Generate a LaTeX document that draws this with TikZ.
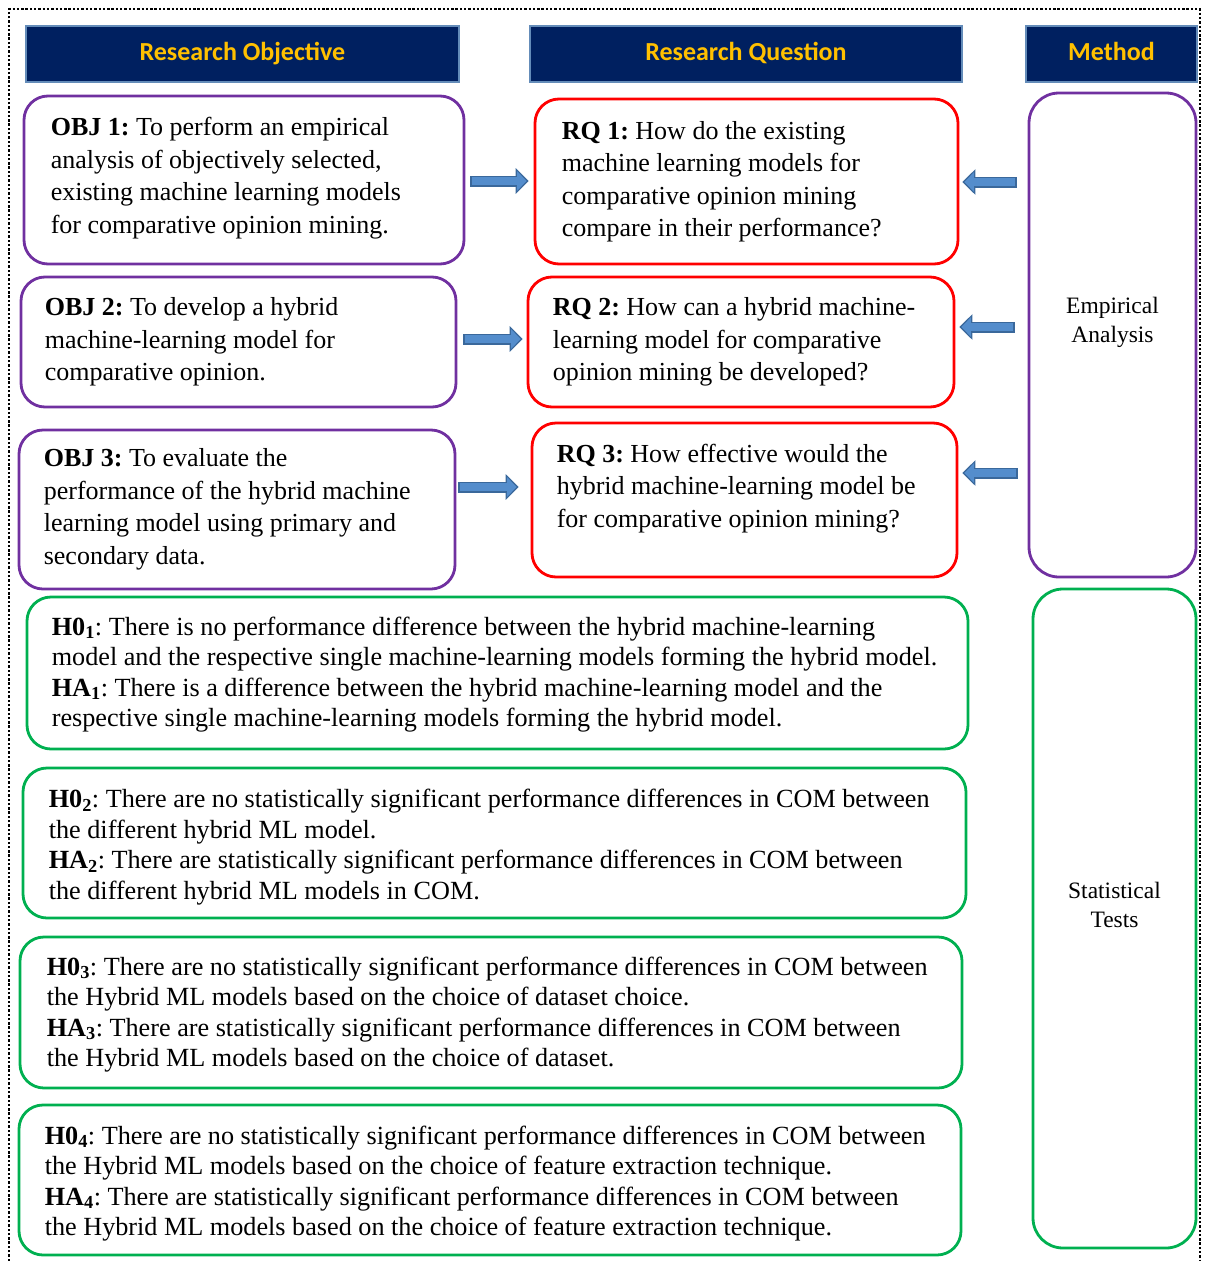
\documentclass[tikz,border=0pt]{standalone}
\usepackage{fontspec}
\setmainfont{Liberation Serif}
\newfontfamily\headfont{Carlito}
\usetikzlibrary{arrows.meta,calc}
\frenchspacing

\definecolor{objpurple}{RGB}{112,48,160}
\definecolor{rqred}{RGB}{255,0,0}
\definecolor{hypgreen}{RGB}{0,176,80}
\definecolor{headnavy}{RGB}{0,32,96}
\definecolor{headgold}{RGB}{255,192,0}
\definecolor{headedge}{RGB}{100,140,185}
\definecolor{arrowfill}{RGB}{84,141,204}
\definecolor{arrowedge}{RGB}{58,104,155}

\begin{document}
\begin{tikzpicture}[x=1pt,y=-1pt,
  sz/.style 2 args={minimum width=#1, minimum height=#2},
  box/.style={draw, line width=2.8pt, rounded corners=24pt, inner sep=0pt},
  objbox/.style={box, draw=objpurple},
  rqbox/.style={box, draw=rqred},
  hypbox/.style={box, draw=hypgreen},
  methodbox/.style={box, rounded corners=30pt},
  head/.style={draw=headedge, line width=1.8pt, fill=headnavy, text=headgold,
    inner sep=0pt, text height=18pt, text depth=6pt,
    font=\headfont\bfseries\fontsize{26}{30}\selectfont},
  txt/.style={anchor=west, align=left, inner sep=0pt,
    font=\fontsize{26}{32.5}\selectfont},
  hyptxt/.style={anchor=west, align=left, inner sep=0pt,
    font=\fontsize{26.2}{30.5}\selectfont},
  methtxt/.style={align=center, inner sep=0pt,
    font=\fontsize{23.5}{29}\selectfont},
  blockarrow/.style={line width=11pt, draw=arrowedge,
    -{Triangle[length=13pt,width=25pt]},
    postaction={draw=arrowfill, line width=7.4pt,
      -{Triangle[length=9.5pt,width=19pt]},
      shorten >=2pt, shorten <=1.8pt}},
  frame/.style={line width=2.8pt, dash pattern=on 2.4pt off 1.9pt}
]
\useasboundingbox (0,0) rectangle (1206,1261);

% outer dotted frame
\draw[frame] (9,1261) -- (9,9) -- (1200,9) -- (1200,1261);

% column headings
\node[head, sz={433pt}{56pt}] (hobj) at (242.5,54) {Research Objective};
\node[head, sz={432pt}{56pt}] (hrq)  at (746,54)   {Research Question};
\node[head, sz={171pt}{56pt}] (hmet) at (1111.5,54) {Method};

% objectives
\node[objbox, sz={440pt}{168pt}] (obj1) at (244,180) {};
\node[txt] (obj1t) at ($(obj1.west)+(28,-2)$)
  {\textbf{OBJ 1:} To perform an empirical\\
   analysis of objectively selected,\\
   existing machine learning models\\
   for comparative opinion mining.};

\node[objbox, sz={435pt}{130pt}] (obj2) at (238.5,342) {};
\node[txt] (obj2t) at ($(obj2.west)+(25,0)$)
  {\textbf{OBJ 2:} To develop a hybrid\\
   machine-learning model for\\
   comparative opinion.};

\node[objbox, sz={436pt}{159pt}] (obj3) at (237,509.5) {};
\node[txt] (obj3t) at ($(obj3.west)+(26,0)$)
  {\textbf{OBJ 3:} To evaluate the\\
   performance of the hybrid machine\\
   learning model using primary and\\
   secondary data.};

% research questions
\node[rqbox, sz={423pt}{165pt}] (rq1) at (746.5,181.5) {};
\node[txt] (rq1t) at ($(rq1.west)+(28,0)$)
  {\textbf{RQ 1:} How do the existing\\
   machine learning models for\\
   comparative opinion mining\\
   compare in their performance?};

\node[rqbox, sz={426pt}{130pt}] (rq2) at (741,342) {};
\node[txt] (rq2t) at ($(rq2.west)+(26,0)$)
  {\textbf{RQ 2:} How can a hybrid machine-\\
   learning model for comparative\\
   opinion mining be developed?};

\node[rqbox, sz={425pt}{154pt}] (rq3) at (744.5,500) {};
\node[txt] (rq3t) at ($(rq3.west)+(26,-11.5)$)
  {\textbf{RQ 3:} How effective would the\\
   hybrid machine-learning model be\\
   for comparative opinion mining?};

% methods
\node[methodbox, draw=objpurple, sz={167pt}{484pt}] (emp) at (1112.5,335) {};
\node[methtxt] (empt) at ($(emp.center)+(0,-13)$) {Empirical\\Analysis};

\node[methodbox, draw=hypgreen, sz={163pt}{659pt}] (stat) at (1114.5,918.5) {};
\node[methtxt] (statt) at ($(stat.center)+(0,-13.5)$) {Statistical\\Tests};

% hypotheses
\node[hypbox, sz={941pt}{152pt}] (h1) at (497.5,673) {};
\node[hyptxt] (h1t) at ($(h1.west)+(26,1.5)$)
  {\textbf{H0\textsubscript{1}}: There is no performance difference between the hybrid machine-learning\\
   model and the respective single machine-learning models forming the hybrid model.\\
   \textbf{HA\textsubscript{1}}: There is a difference between the hybrid machine-learning model and the\\
   respective single machine-learning models forming the hybrid model.};

\node[hypbox, sz={943pt}{150pt}] (h2) at (494.5,843) {};
\node[hyptxt] (h2t) at ($(h2.west)+(27,4)$)
  {\textbf{H0\textsubscript{2}}: There are no statistically significant performance differences in COM between\\
   the different hybrid ML model.\\
   \textbf{HA\textsubscript{2}}: There are statistically significant performance differences in COM between\\
   the different hybrid ML models in COM.};

\node[hypbox, sz={942pt}{151pt}] (h3) at (491,1012.5) {};
\node[hyptxt] (h3t) at ($(h3.west)+(28,2)$)
  {\textbf{H0\textsubscript{3}}: There are no statistically significant performance differences in COM between\\
   the Hybrid ML models based on the choice of dataset choice.\\
   \textbf{HA\textsubscript{3}}: There are statistically significant performance differences in COM between\\
   the Hybrid ML models based on the choice of dataset.};

\node[hypbox, sz={942pt}{150pt}] (h4) at (490,1180) {};
\node[hyptxt] (h4t) at ($(h4.west)+(27,3.5)$)
  {\textbf{H0\textsubscript{4}}: There are no statistically significant performance differences in COM between\\
   the Hybrid ML models based on the choice of feature extraction technique.\\
   \textbf{HA\textsubscript{4}}: There are statistically significant performance differences in COM between\\
   the Hybrid ML models based on the choice of feature extraction technique.};

% objective -> question
\draw[blockarrow] ($(obj1.east)+(5,1)$) -- ($(rq1.west |- obj1.east)+(-5,1)$);
\draw[blockarrow] ($(obj2.east)+(6,-3)$) -- ($(rq2.west |- obj2.east)+(-4,-3)$);
\draw[blockarrow] ($(obj3.east)+(2,-22.5)$) -- ($(rq3.west |- obj3.east)+(-12,-22.5)$);

% method -> question
\draw[blockarrow] ($(emp.west |- rq1.east)+(-11,0.5)$) -- ($(rq1.east)+(3,0.5)$);
\draw[blockarrow] ($(emp.west |- rq2.east)+(-13,-15)$) -- ($(rq2.east)+(4,-15)$);
\draw[blockarrow] ($(emp.west |- rq3.east)+(-10,-27)$) -- ($(rq3.east)+(4,-27)$);
\end{tikzpicture}
\end{document}
